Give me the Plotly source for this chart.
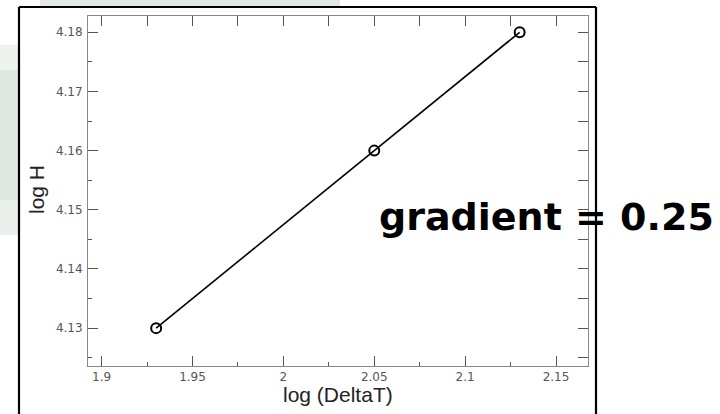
import plotly.graph_objects as go

log_deltaT = [1.93, 2.05, 2.13]
log_H = [4.13, 4.16, 4.18]
x_ticks = [1.9, 1.95, 2.0, 2.05, 2.1, 2.15]
x_tick_text = ["1.9", "1.95", "2", "2.05", "2.1", "2.15"]
y_ticks = [4.13, 4.14, 4.15, 4.16, 4.17, 4.18]
y_tick_text = ["4.13", "4.14", "4.15", "4.16", "4.17", "4.18"]

XR = [1.8925, 2.1676]
YR = [4.1236, 4.18275]

L, R, T, B = 88, 132, 16, 48
W, H = 720, 414
PW, PH = W - L - R, H - T - B

def px(x):
    return (x - L) / PW

def py(y):
    return (H - B - y) / PH

fig = go.Figure()
fig.add_trace(go.Scatter(
    x=log_deltaT, y=log_H, mode="lines+markers",
    line=dict(color="black", width=1.6),
    marker=dict(symbol="circle-open", size=10, color="black", line=dict(width=2)),
    showlegend=False, hoverinfo="skip"))
fig.add_trace(go.Scatter(x=[None], y=[None], xaxis="x2", yaxis="y2", showlegend=False))

tickfont = dict(family="DejaVu Sans", size=12, color="#555")
fig.update_layout(
    width=W, height=H,
    margin=dict(l=L, r=R, t=T, b=B),
    paper_bgcolor="white", plot_bgcolor="white",
    xaxis=dict(range=XR, tickvals=x_ticks, ticktext=x_tick_text, ticks="inside",
               ticklen=10, tickcolor="#555", tickwidth=1, showgrid=False, zeroline=False,
               showline=True, linecolor="#888", linewidth=1, tickfont=tickfont,
               minor=dict(dtick=0.025, tick0=1.9, ticks="inside", ticklen=4, tickcolor="#555")),
    yaxis=dict(range=YR, tickvals=y_ticks, ticktext=y_tick_text, ticks="inside",
               ticklen=10, tickcolor="#555", tickwidth=1, showgrid=False, zeroline=False,
               showline=True, linecolor="#888", linewidth=1, tickfont=tickfont,
               ticklabelstandoff=2,
               minor=dict(dtick=0.005, tick0=4.125, ticks="inside", ticklen=4, tickcolor="#555")),
    xaxis2=dict(range=XR, overlaying="x", side="top", dtick=0.025, tick0=1.9,
                ticks="inside", ticklen=10, tickcolor="#555", showticklabels=False,
                showgrid=False, zeroline=False, showline=True, linecolor="#888"),
    yaxis2=dict(range=YR, overlaying="y", side="right", dtick=0.005, tick0=4.125,
                ticks="inside", ticklen=10, tickcolor="#555", showticklabels=False,
                showgrid=False, zeroline=False, showline=True, linecolor="#888"),
)

shapes = []
# faint watermark in the page background
for (x0, x1, y0, y1, c) in [(0, 18, 45, 70, "#eef2ef"), (0, 18, 70, 200, "#dfe7e2"),
                            (0, 18, 200, 235, "#eaefeb"), (40, 340, 0, 6, "#e2e9e4")]:
    shapes.append(dict(type="rect", xref="paper", yref="paper", x0=px(x0), x1=px(x1),
                       y0=py(y1), y1=py(y0), fillcolor=c, line=dict(width=0), layer="below"))
# outer black frame
for (x0, y0, x1, y1) in [(19, 7, 19, 414), (19, 7, 596, 7), (596, 7, 596, 414)]:
    shapes.append(dict(type="line", xref="paper", yref="paper", x0=px(x0), y0=py(y0),
                       x1=px(x1), y1=py(y1), line=dict(color="black", width=2.2)))
fig.update_layout(shapes=shapes)

fig.add_annotation(text="log (DeltaT)", xref="paper", yref="paper", x=px(338), y=py(394),
                   showarrow=False, font=dict(family="Liberation Sans", size=21, color="#222"),
                   xanchor="center", yanchor="middle")
fig.add_annotation(text="log H", xref="paper", yref="paper", x=px(36), y=py(190),
                   showarrow=False, textangle=-90,
                   font=dict(family="Liberation Sans", size=21, color="#222"),
                   xanchor="center", yanchor="middle")
fig.add_annotation(text="<b>gradient = 0.25</b>", xref="paper", yref="paper", x=px(546), y=py(217),
                   showarrow=False, font=dict(family="DejaVu Sans", size=38, color="black"),
                   xanchor="center", yanchor="middle")

fig.write_html("out.html", config={"displayModeBar": False},
               post_script="document.body.style.margin='0';document.body.style.padding='0';")
